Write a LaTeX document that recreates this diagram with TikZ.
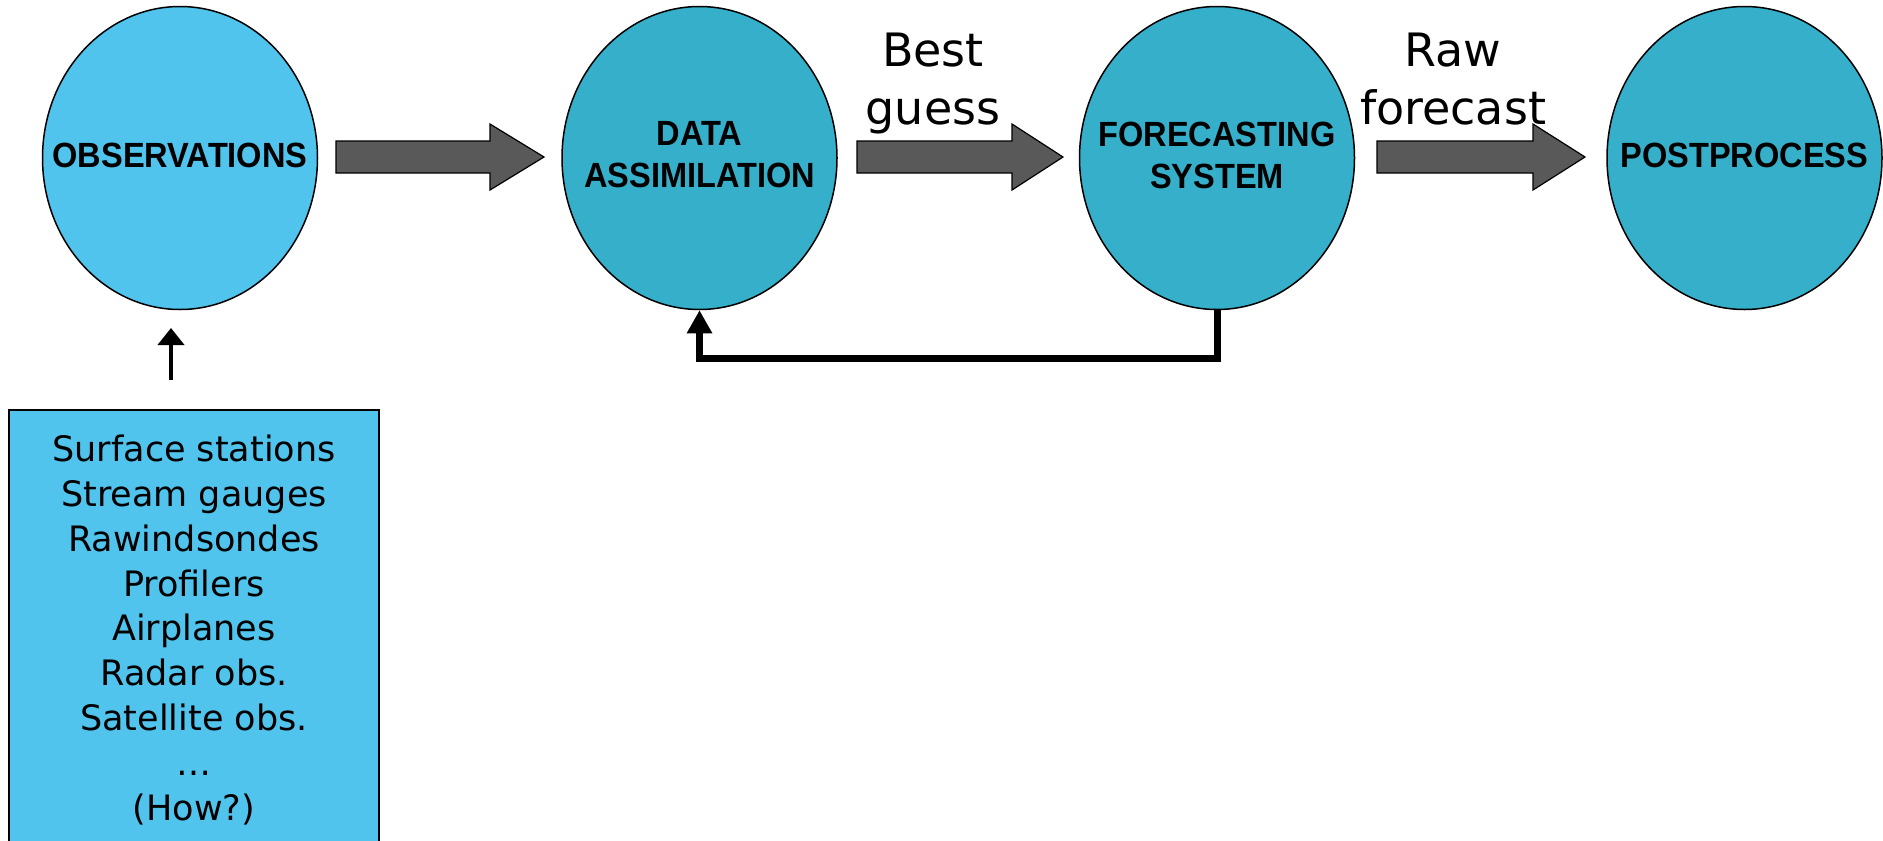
\documentclass[tikz,border=0pt]{standalone}
\usepackage{fontspec}
\setmainfont{DejaVu Sans}
\newfontfamily\capsfont[FakeStretch=0.93]{Liberation Sans Bold}
\usetikzlibrary{shapes.geometric,arrows.meta}

\definecolor{obsblue}{RGB}{80,196,237}
\definecolor{procblue}{RGB}{53,175,202}
\definecolor{arrowgray}{RGB}{89,89,89}

\tikzset{
  stage/.style={ellipse, draw=black, line width=1.5pt, fill=procblue,
    minimum width=275pt, minimum height=303pt, inner sep=0pt},
  stagetext/.style={inner sep=0pt, align=center,
    font=\capsfont\fontsize{35}{42}\selectfont},
  sourcebox/.style={rectangle, draw=black, line width=1.5pt, fill=obsblue,
    minimum width=370pt, minimum height=440pt, inner sep=0pt, align=center,
    font=\fontsize{35}{44.8}\selectfont},
  flowlabel/.style={anchor=north, inner sep=0pt, align=center,
    font=\fontsize{46}{58}\selectfont},
  bigarrow/.style={draw=black, line width=1.2pt, fill=arrowgray, line join=miter},
  feedback/.style={line width=7pt, -{Triangle[width=24pt,length=23pt]}},
  inflow/.style={line width=4pt, -{Triangle[width=26pt,length=17pt]}}
}

% thick grey block arrow: tail x, head base x, tip x
\newcommand\flowarrow[3]{%
  \draw[bigarrow] (#1,141) -- (#2,141) -- (#2,124) -- (#3,157)
    -- (#2,190) -- (#2,173) -- (#1,173) -- cycle;}

\begin{document}
\begin{tikzpicture}[x=1pt,y=-1pt]
  \useasboundingbox (0,0) rectangle (1883,841);
  \fill[white] (0,0) rectangle (1883,841);
  \clip (0,0) rectangle (1883,841);

  % processing chain
  \node[stage, fill=obsblue] (obs) at (180,158) {};
  \node[stage] (da) at (699.5,158) {};
  \node[stage] (fs) at (1217,158) {};
  \node[stage] (pp) at (1744.5,158) {};

  \node[stagetext] (obstext) at ([yshift=2.5]obs.center) {OBSERVATIONS};
  \node[stagetext] (datext) at ([yshift=3]da.center) {DATA\\ASSIMILATION};
  \node[stagetext] (fstext) at ([yshift=3]fs.center) {FORECASTING\\SYSTEM};
  \node[stagetext] (pptext) at ([yshift=2.5]pp.center) {POSTPROCESS};

  \flowarrow{336}{490}{544}
  \flowarrow{857}{1012}{1063}
  \flowarrow{1377}{1533}{1585}

  \node[flowlabel] (bestguess) at (933,33) {Best\\guess};
  \node[flowlabel] (rawfc) at (1453,33) {Raw\\forecast};

  % cycling: forecast feeds back into the assimilation
  \draw[feedback] (fs.south) -- ++(0,48) -| (da.south);

  % observing systems
  \node[sourcebox] (sources) at (194,630)
    {Surface stations\\Stream gauges\\Rawindsondes\\Profilers\\Airplanes\\
     Radar obs.\\Satellite obs.\\…\\(How?)};

  \coordinate (obstail) at (171,380);
  \coordinate (obshead) at (171,328);
  \draw[inflow] (obstail) -- (obshead);
\end{tikzpicture}
\end{document}
